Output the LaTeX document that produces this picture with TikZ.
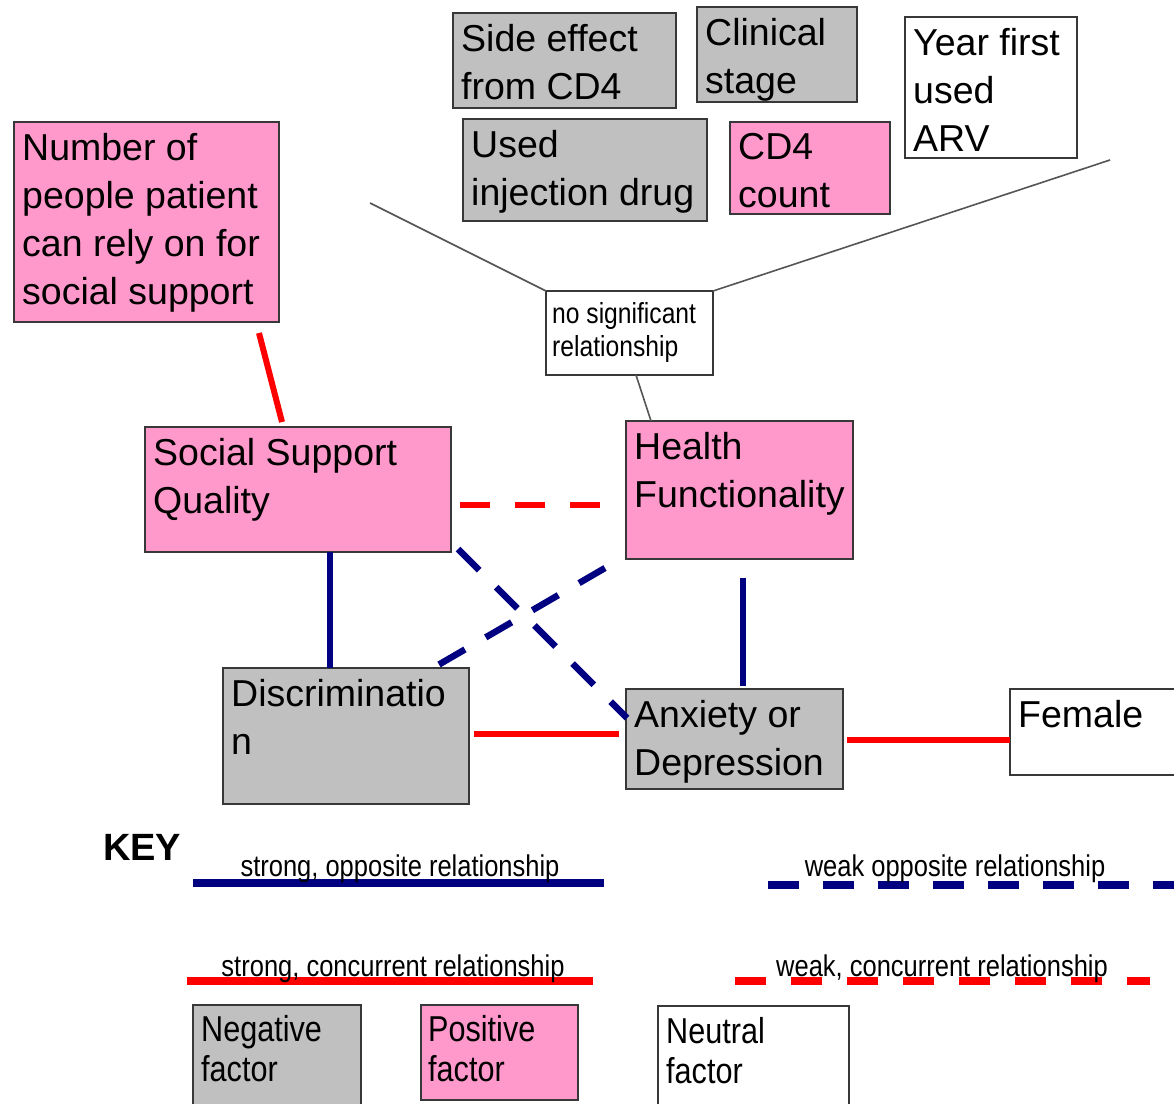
\documentclass[tikz,border=0pt]{standalone}
\usepackage{fontspec}
\setmainfont{Liberation Sans}
\newfontfamily\narrowfont[FakeStretch=0.85]{Liberation Sans}
\usetikzlibrary{calc}
\definecolor{pinkf}{HTML}{FF99CC}
\definecolor{grayf}{HTML}{C0C0C0}
\definecolor{navyl}{HTML}{000080}
\definecolor{redl}{HTML}{FF0000}
\definecolor{thinl}{HTML}{555555}
\tikzset{
  boxstyle/.style={draw=black!78, line width=2pt, rectangle, inner sep=0pt, outer sep=0pt},
  boxtext/.style={inner sep=0pt, align=left, font=\fontsize{37.5}{48}\selectfont},
  smalltext/.style={inner sep=0pt, align=left, font=\narrowfont\fontsize{29}{33}\selectfont},
  legtext/.style={inner sep=0pt, align=left, font=\narrowfont\fontsize{36}{40}\selectfont},
  keytext/.style={inner sep=0pt, font=\narrowfont\fontsize{30}{34}\selectfont},
  strongneg/.style={draw=navyl, line width=6.5pt},
  weakneg/.style={draw=navyl, line width=6.5pt, dash pattern=on 30pt off 24pt},
  strongpos/.style={draw=redl, line width=6pt},
  weakpos/.style={draw=redl, line width=6pt, dash pattern=on 30pt off 25pt},
  thin/.style={draw=thinl, line width=1.6pt},
}
\newcommand{\factorbox}[8]{%
  \node[boxstyle, fill=#6, minimum width={#4-#2}, minimum height={#5-#3}, anchor=north west] (#1) at (#2,#3) {};
  \node[#8, anchor=north west] (#1-t) at ($(#1.north west)+(8,11)$) {#7};
}
\begin{document}
\begin{tikzpicture}[x=1pt,y=-1pt]
\useasboundingbox (0,0) rectangle (1174,1103);
\fill[white] (0,0) rectangle (1174,1103);

% top factor boxes
\factorbox{side}{453}{13}{676}{108}{grayf}{Side effect\\from CD4}{boxtext}
\factorbox{clin}{697}{7}{857}{102}{grayf}{Clinical\\stage}{boxtext}
\factorbox{inj}{463}{119}{707}{221}{grayf}{Used\\injection drug}{boxtext}
\factorbox{cd4}{730}{122}{890}{214}{pinkf}{CD4\\count}{boxtext}
\factorbox{year}{905}{17}{1077}{158}{white}{Year first\\used\\ARV}{boxtext}
\factorbox{num}{14}{122}{279}{322}{pinkf}{Number of\\people patient\\can rely on for\\social support}{boxtext}

\node[boxstyle, fill=white, minimum width=167, minimum height=84, anchor=north west] (nsr) at (546,291) {};
\node[smalltext, anchor=north west] (nsr-t) at ($(nsr.north west)+(6,11)$) {no significant\\relationship};

% main boxes
\factorbox{ssq}{145}{427}{451}{552}{pinkf}{Social Support\\Quality}{boxtext}
\factorbox{hf}{626}{421}{853}{559}{pinkf}{Health\\Functionality}{boxtext}
\factorbox{disc}{223}{668}{469}{804}{grayf}{Discriminatio\\n}{boxtext}
\factorbox{anx}{626}{689}{843}{789}{grayf}{Anxiety or\\Depression}{boxtext}
\factorbox{fem}{1010}{689}{1190}{775}{white}{Female}{boxtext}

% thin lines to "no significant relationship"
\coordinate (leftend) at (370,203);
\coordinate (rightend) at (1110,160);
\draw[thin] (leftend) -- (nsr.north west);
\draw[thin] (nsr.north east) -- (rightend);
\draw[thin] ($(nsr.south)+(6.5,0)$) -- ($(hf.north)+(-88.5,0)$);

% relationships
\draw[strongpos] ($(num.south)+(112.5,11)$) -- ($(ssq.north)+(-16,-5)$);
\draw[weakpos] ($(ssq.east)+(9,15.5)$) -- ($(hf.west)+(-21,15)$);
\draw[strongneg] ($(ssq.south)+(32,0)$) -- ($(disc.north)+(-16,0)$);
\draw[weakneg] ($(ssq.south east)+(7,-3)$) -- ($(anx.north west)+(1,29)$);
\draw[weakneg] ($(hf.south west)+(-21,9)$) -- ($(disc.north east)+(-36,0)$);
\draw[strongneg] ($(hf.south)+(3.5,19)$) -- ($(anx.north)+(8.5,-3)$);
\draw[strongpos] ($(disc.east)+(5,-2)$) -- ($(anx.west)+(-7,-5)$);
\draw[strongpos] ($(anx.east)+(4,1)$) -- ($(fem.west)+(0,8)$);

% key
\node[inner sep=0pt, anchor=north west, font=\bfseries\fontsize{38}{40}\selectfont] (key) at (103,834) {KEY};

\coordinate (k1a) at (193,883); \coordinate (k1b) at (604,883);
\draw[strongneg, line width=8pt] (k1a) -- (k1b);
\node[keytext, anchor=base] (k1t) at (400,876) {strong, opposite relationship};

\coordinate (k2a) at (768,885); \coordinate (k2b) at (1180,885);
\draw[weakneg, line width=8pt, dash pattern=on 31pt off 24pt] (k2a) -- (k2b);
\node[keytext, anchor=base] (k2t) at (955,876) {weak opposite relationship};

\coordinate (k3a) at (187,981); \coordinate (k3b) at (593,981);
\draw[strongpos, line width=8pt] (k3a) -- (k3b);
\node[keytext, anchor=base] (k3t) at (393,976) {strong, concurrent relationship};

\coordinate (k4a) at (735,981); \coordinate (k4b) at (1150,981);
\draw[weakpos, line width=8pt, dash pattern=on 31pt off 25pt] (k4a) -- (k4b);
\node[keytext, anchor=base] (k4t) at (942,976) {weak, concurrent relationship};

% legend boxes
\node[boxstyle, fill=grayf, minimum width=168, minimum height=110, anchor=north west] (neg) at (193,1005) {};
\node[legtext, anchor=north west] (neg-t) at ($(neg.north west)+(8,10)$) {Negative\\factor};
\node[boxstyle, fill=pinkf, minimum width=157, minimum height=95, anchor=north west] (pos) at (421,1005) {};
\node[legtext, anchor=north west] (pos-t) at ($(pos.north west)+(7,10)$) {Positive\\factor};
\node[boxstyle, fill=white, minimum width=191, minimum height=110, anchor=north west] (neu) at (658,1006) {};
\node[legtext, anchor=north west] (neu-t) at ($(neu.north west)+(8,11)$) {Neutral\\factor};
\end{tikzpicture}
\end{document}
